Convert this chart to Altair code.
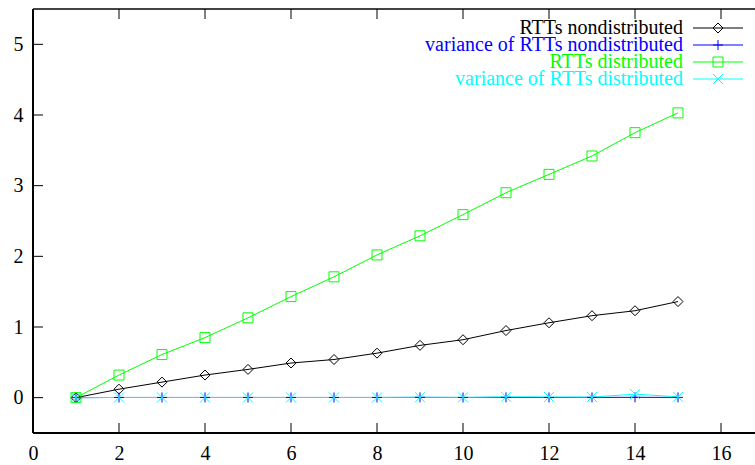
import altair as alt
import pandas as pd

# ---- data ----
x_vals = list(range(1, 16))
rtt_nondist = [0.0, 0.12, 0.22, 0.32, 0.40, 0.49, 0.54, 0.63, 0.74, 0.82, 0.95, 1.06, 1.16, 1.23, 1.36]
var_nondist = [0.0, 0.003, 0.003, 0.003, 0.003, 0.003, 0.003, 0.003, 0.004, 0.003, 0.004, 0.003, 0.004, 0.005, 0.004]
rtt_dist = [0.0, 0.32, 0.61, 0.85, 1.13, 1.43, 1.71, 2.02, 2.29, 2.59, 2.90, 3.16, 3.42, 3.75, 4.03]
var_dist = [0.0, 0.003, 0.003, 0.003, 0.003, 0.003, 0.003, 0.003, 0.006, 0.004, 0.012, 0.010, 0.008, 0.05, 0.012]

names = ["RTTs nondistributed", "variance of RTTs nondistributed",
         "RTTs distributed", "variance of RTTs distributed"]
colors = ["#000000", "#0000ff", "#00ff00", "#00ffff"]
shapes = ["diamond", "M-1,0L1,0M0,-1L0,1", "square", "M-1,-1L1,1M-1,1L1,-1"]
sizes = [100, 100, 121, 90]

x_ticks = [0, 2, 4, 6, 8, 10, 12, 14, 16]
y_ticks = [0, 1, 2, 3, 4, 5]

series_values = [rtt_nondist, var_nondist, rtt_dist, var_dist]
rows = []
for name, vals in zip(names, series_values):
    for xv, yv in zip(x_vals, vals):
        rows.append({"series": name, "x": xv, "y": yv})
df = pd.DataFrame(rows)

# legend rows (layout computed here, not data)
leg = pd.DataFrame({"series": names, "ly": [19 + 17 * i for i in range(len(names))]})
xt = pd.DataFrame({"t": x_ticks})
yt = pd.DataFrame({"t": y_ticks})

# ---- layout ----
W, H = 722, 424
PX_PER_X = 43.0
XMAX = W / PX_PER_X
FONT = "Liberation Serif"
FS = 20
TICK = 10

xs = alt.Scale(domain=[0, XMAX], nice=False, zero=False)
ys = alt.Scale(domain=[-0.5, 5.5], nice=False, zero=False)
color = alt.Color("series:N", scale=alt.Scale(domain=names, range=colors), legend=None)
shape = alt.Shape("series:N", scale=alt.Scale(domain=names, range=shapes), legend=None)
size = alt.Size("series:N", scale=alt.Scale(domain=names, range=sizes), legend=None)

base = alt.Chart(df)

lines = base.mark_line(strokeWidth=1).encode(
    x=alt.X("x:Q", scale=xs, axis=alt.Axis(
        orient="bottom", values=x_ticks, format="d", ticks=False, domain=False,
        grid=False, title=None, labelFont=FONT, labelFontSize=FS,
        labelColor="black", labelPadding=10, labelFlush=False)),
    y=alt.Y("y:Q", scale=ys, axis=alt.Axis(
        orient="left", values=y_ticks, format="d", ticks=False, domain=False,
        grid=False, title=None, labelFont=FONT, labelFontSize=FS,
        labelColor="black", labelPadding=10, labelFlush=False)),
    color=color,
    detail="series:N",
)

points = base.mark_point(filled=False, strokeWidth=1, opacity=1).encode(
    x=alt.X("x:Q", scale=xs),
    y=alt.Y("y:Q", scale=ys),
    color=color,
    shape=shape,
    size=size,
)

# inward tick marks (gnuplot style), on bottom, top and left
bt = alt.Chart(xt).mark_rule(color="black", strokeWidth=1).encode(
    x=alt.X("t:Q", scale=xs), y=alt.value(H - TICK), y2=alt.value(H))
tt = alt.Chart(xt).mark_rule(color="black", strokeWidth=1).encode(
    x=alt.X("t:Q", scale=xs), y=alt.value(0), y2=alt.value(TICK))
lt = alt.Chart(yt).mark_rule(color="black", strokeWidth=1).encode(
    y=alt.Y("t:Q", scale=ys), x=alt.value(0), x2=alt.value(TICK))

# frame (right side lies beyond the visible area)
frame_top = alt.Chart(xt).mark_rule(color="#444444", strokeWidth=1).encode(
    x=alt.value(0), x2=alt.value(W), y=alt.value(0))
frame_bottom = alt.Chart(xt).mark_rule(color="black", strokeWidth=1).encode(
    x=alt.value(0), x2=alt.value(W), y=alt.value(H))
frame_left = alt.Chart(xt).mark_rule(color="black", strokeWidth=1).encode(
    x=alt.value(0), y=alt.value(0), y2=alt.value(H))

# legend (gnuplot style: label right-aligned, sample to the right)
lbase = alt.Chart(leg)
leg_text = lbase.mark_text(align="right", baseline="middle", font=FONT, fontSize=FS).encode(
    x=alt.value(650),
    y=alt.Y("ly:Q", scale=None, axis=None),
    text="series:N",
    color=color,
)
leg_line = lbase.mark_rule(strokeWidth=1).encode(
    x=alt.value(660), x2=alt.value(710),
    y=alt.Y("ly:Q", scale=None, axis=None),
    color=color,
)
leg_pt = lbase.mark_point(filled=False, strokeWidth=1, opacity=1).encode(
    x=alt.value(685),
    y=alt.Y("ly:Q", scale=None, axis=None),
    color=color,
    shape=shape,
    size=size,
)

chart = alt.layer(
    frame_top, frame_bottom, frame_left, bt, tt, lt,
    lines, points, leg_line, leg_pt, leg_text
).properties(
    width=W, height=H,
    padding={"left": 33, "top": 9, "right": 0, "bottom": 32},
    autosize=alt.AutoSizeParams(type="none"),
    background="white",
).configure_view(stroke=None)

chart.save("out.html", embed_options={"renderer": "svg", "actions": False})
